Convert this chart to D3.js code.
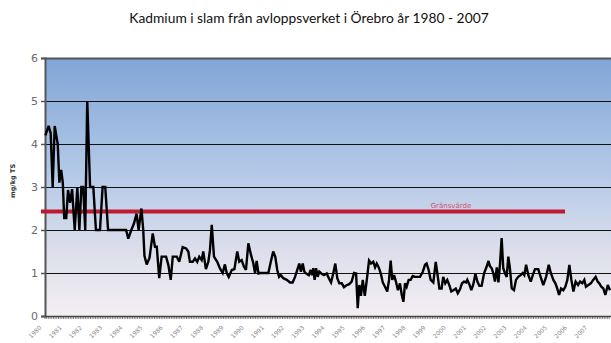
<!DOCTYPE html>
<html>
<head>
<meta charset="utf-8">
<script src="https://cdn.jsdelivr.net/npm/d3@7"></script>
<style>
  html, body { margin: 0; padding: 0; background: #fff; overflow: hidden; }
  svg { display: block; }
</style>
</head>
<body>
<svg id="chart" width="611" height="343"></svg>
<script>
// Cadmium in sewage sludge, Örebro, sampling time as decimal year
const sampleYear = [
  1980.02, 1980.18, 1980.28, 1980.38, 1980.48, 1980.63, 1980.71, 1980.80, 1980.88, 1980.95,
  1981.05, 1981.14, 1981.24, 1981.34, 1981.47, 1981.60, 1981.70, 1981.80, 1981.89, 1981.99,
  1982.09, 1982.23, 1982.39, 1982.52, 1982.72, 1982.85, 1982.98, 1983.12, 1984.01, 1984.12,
  1984.27, 1984.40, 1984.53, 1984.63, 1984.77, 1984.86, 1984.92, 1985.03, 1985.17, 1985.33,
  1985.44, 1985.53, 1985.65, 1985.77, 1985.99, 1986.10, 1986.22, 1986.32, 1986.52, 1986.64,
  1986.81, 1986.98, 1987.09, 1987.17, 1987.31, 1987.42, 1987.53, 1987.63, 1987.75, 1987.83,
  1987.96, 1988.08, 1988.16, 1988.25, 1988.36, 1988.52, 1988.66, 1988.79, 1988.90, 1988.99,
  1989.09, 1989.24, 1989.37, 1989.51, 1989.61, 1989.73, 1989.84, 1989.94, 1990.06, 1990.19,
  1990.30, 1990.39, 1990.47, 1990.56, 1990.64, 1991.05, 1991.17, 1991.29, 1991.39, 1991.49,
  1991.58, 1991.66, 1991.79, 1991.96, 1992.12, 1992.25, 1992.37, 1992.48, 1992.58, 1992.66,
  1992.75, 1992.83, 1992.91, 1993.05, 1993.14, 1993.21, 1993.27, 1993.34, 1993.41, 1993.49,
  1993.57, 1993.67, 1993.80, 1993.94, 1994.04, 1994.15, 1994.26, 1994.36, 1994.46, 1994.56,
  1994.68, 1994.79, 1994.93, 1995.05, 1995.17, 1995.29, 1995.39, 1995.47, 1995.55, 1995.63,
  1995.72, 1995.82, 1995.92, 1996.03, 1996.13, 1996.24, 1996.33, 1996.41, 1996.51, 1996.61,
  1996.71, 1996.82, 1996.93, 1997.02, 1997.10, 1997.18, 1997.27, 1997.36, 1997.46, 1997.56,
  1997.65, 1997.73, 1997.81, 1997.89, 1997.99, 1998.09, 1998.19, 1998.30, 1998.55, 1998.69,
  1998.80, 1998.88, 1998.98, 1999.08, 1999.21, 1999.33, 1999.41, 1999.51, 1999.62, 1999.70,
  1999.80, 1999.90, 2000.00, 2000.10, 2000.20, 2000.32, 2000.42, 2000.53, 2000.63, 2000.73,
  2000.83, 2000.89, 2000.99, 2001.09, 2001.19, 2001.29, 2001.39, 2001.49, 2001.60, 2001.72,
  2001.85, 2001.94, 2002.01, 2002.10, 2002.18, 2002.26, 2002.35, 2002.43, 2002.51, 2002.59,
  2002.67, 2002.76, 2002.84, 2002.92, 2003.00, 2003.09, 2003.20, 2003.30, 2003.41, 2003.53,
  2003.63, 2003.71, 2003.80, 2003.91, 2004.03, 2004.13, 2004.24, 2004.40, 2004.52, 2004.65,
  2004.79, 2004.92, 2005.03, 2005.15, 2005.25, 2005.34, 2005.43, 2005.53, 2005.64, 2005.74,
  2005.84, 2005.94, 2006.04, 2006.14, 2006.25, 2006.37, 2006.47, 2006.58, 2006.68, 2006.76,
  2006.88, 2007.00, 2007.12, 2007.24, 2007.34, 2007.42, 2007.52, 2007.62, 2007.72, 2007.84,
  2007.95
];

// mg/kg TS
const cadmium = [
  4.20, 4.42, 4.25, 3.00, 4.42, 4.00, 3.10, 3.40, 3.10, 2.28,
  2.28, 2.93, 2.63, 2.95, 2.00, 3.00, 2.00, 3.00, 3.00, 2.00,
  5.00, 3.00, 3.00, 2.00, 2.00, 3.00, 3.00, 2.00, 2.00, 1.80,
  2.00, 2.15, 2.38, 2.00, 2.50, 2.00, 1.40, 1.20, 1.35, 1.92,
  1.61, 1.61, 0.88, 1.38, 1.38, 1.19, 0.84, 1.38, 1.38, 1.26,
  1.60, 1.57, 1.50, 1.26, 1.26, 1.34, 1.26, 1.38, 1.30, 1.50,
  1.09, 1.26, 1.53, 2.12, 1.38, 1.26, 1.10, 1.00, 1.20, 1.00,
  0.91, 1.07, 1.09, 1.50, 1.26, 1.30, 1.15, 1.07, 1.69, 1.42,
  1.24, 1.00, 1.28, 0.99, 1.00, 1.00, 1.26, 1.50, 1.38, 1.07,
  0.91, 0.95, 0.88, 0.84, 0.78, 0.78, 0.91, 1.07, 1.22, 1.03,
  1.22, 1.03, 0.99, 0.95, 1.07, 0.95, 1.11, 0.84, 1.11, 0.91,
  1.03, 0.99, 0.95, 0.99, 0.88, 0.78, 0.99, 1.22, 0.88, 0.76,
  0.76, 0.67, 0.72, 0.74, 0.80, 1.00, 0.99, 0.18, 0.72, 0.47,
  0.84, 0.47, 0.84, 1.29, 1.22, 1.26, 1.13, 1.22, 1.13, 0.99,
  0.78, 0.68, 0.57, 0.84, 1.29, 0.84, 0.95, 0.80, 0.60, 0.76,
  0.49, 0.33, 0.76, 0.68, 0.84, 0.84, 0.93, 0.91, 0.91, 1.03,
  1.19, 1.22, 1.07, 0.84, 0.78, 1.26, 0.99, 0.64, 0.64, 0.91,
  0.76, 0.84, 0.72, 0.57, 0.60, 0.64, 0.53, 0.62, 0.76, 0.80,
  0.78, 0.84, 0.74, 0.60, 0.74, 0.98, 0.80, 0.70, 0.70, 0.99,
  1.15, 1.28, 1.16, 1.11, 0.99, 0.80, 1.13, 0.78, 1.22, 1.81,
  1.11, 0.99, 0.91, 1.38, 1.11, 0.64, 0.60, 0.84, 0.91, 0.95,
  1.00, 0.95, 1.19, 0.95, 0.80, 0.95, 1.09, 1.09, 0.91, 0.72,
  0.91, 1.19, 0.99, 0.84, 0.76, 0.64, 0.49, 0.64, 0.60, 0.68,
  0.84, 1.19, 0.84, 0.57, 0.80, 0.72, 0.80, 0.76, 0.84, 0.68,
  0.72, 0.76, 0.84, 0.91, 0.80, 0.76, 0.68, 0.64, 0.49, 0.72,
  0.60
];

const limitValue = 2.43;
const limitLabel = "Gränsvärde";
const yTicks = [0, 1, 2, 3, 4, 5, 6];
const yearLabels = d3.range(1980, 2008).map(String);
const titleText = "Kadmium i slam från avloppsverket i Örebro år 1980 - 2007";
const yTitle = "mg/kg TS";

const svg = d3.select("#chart");
const W = 611, H = 343;
const plot = { left: 45, right: 611, top: 58, bottom: 316 };

const x = d3.scaleLinear().domain([1980, 2008]).range([plot.left, plot.right]);
const y = d3.scaleLinear().domain([0, 6]).range([plot.bottom, plot.top]);

// background gradient of the plot area
const defs = svg.append("defs");
const grad = defs.append("linearGradient")
  .attr("id", "bg").attr("x1", 0).attr("y1", 0).attr("x2", 0).attr("y2", 1);
grad.append("stop").attr("offset", "0%").attr("stop-color", "#80a5d6");
grad.append("stop").attr("offset", "45%").attr("stop-color", "#b4c9e8");
grad.append("stop").attr("offset", "75%").attr("stop-color", "#dcdfeb");
grad.append("stop").attr("offset", "100%").attr("stop-color", "#f4eef2");

svg.append("rect")
  .attr("x", plot.left).attr("y", plot.top)
  .attr("width", plot.right - plot.left + 5).attr("height", plot.bottom - plot.top)
  .attr("fill", "url(#bg)");

// title
svg.append("text")
  .attr("x", 309).attr("y", 23)
  .attr("text-anchor", "middle")
  .attr("font-family", "Lato, 'Open Sans', sans-serif")
  .attr("font-size", 13.8)
  .attr("fill", "#111")
  .text(titleText);

// horizontal grid lines
svg.append("g")
  .selectAll("line")
  .data(yTicks.filter(d => d > 0))
  .join("line")
  .attr("x1", plot.left).attr("x2", W)
  .attr("y1", d => Math.round(y(d)) + 0.5).attr("y2", d => Math.round(y(d)) + 0.5)
  .attr("stroke", d => d === 6 ? "#555" : "#111")
  .attr("stroke-width", d => d === 6 ? 2 : 1.2);

// y axis
const yAxis = d3.axisLeft(y).tickValues(yTicks).tickSize(4).tickPadding(3).tickFormat(d3.format("d"));
const gy = svg.append("g").attr("transform", `translate(${plot.left},0)`).call(yAxis);
gy.select(".domain").attr("stroke", "#555").attr("stroke-width", 2);
gy.selectAll(".tick line").attr("stroke", "#555").attr("stroke-width", 1.5);
gy.selectAll(".tick text")
  .attr("font-family", "'DejaVu Sans', sans-serif")
  .attr("font-size", 11)
  .attr("fill", "#6a6a6a");

// y axis title
svg.append("text")
  .attr("transform", "translate(15,181) rotate(-90)")
  .attr("text-anchor", "middle")
  .attr("font-family", "'DejaVu Sans', sans-serif")
  .attr("font-size", 6.5)
  .attr("font-weight", "bold")
  .attr("fill", "#333")
  .text(yTitle);

// x axis with monthly minor ticks
const monthTicks = d3.range(0, 336).map(i => 1980 + i / 12);
svg.append("g")
  .selectAll("line")
  .data(monthTicks)
  .join("line")
  .attr("x1", d => x(d)).attr("x2", d => x(d))
  .attr("y1", plot.bottom).attr("y2", plot.bottom + 3)
  .attr("stroke", "#555").attr("stroke-width", 0.7);
svg.append("line")
  .attr("x1", plot.left).attr("x2", W)
  .attr("y1", plot.bottom + 0.5).attr("y2", plot.bottom + 0.5)
  .attr("stroke", "#444").attr("stroke-width", 1.5);

// year labels, rotated
svg.append("g")
  .selectAll("text")
  .data(yearLabels)
  .join("text")
  .attr("transform", d => `translate(${x(+d) - 3},${plot.bottom + 12}) rotate(-45)`)
  .attr("text-anchor", "end")
  .attr("font-family", "'DejaVu Sans', sans-serif")
  .attr("font-size", 6)
  .attr("fill", "#8a8a8a")
  .text(d => d);

// limit line
svg.append("line")
  .attr("x1", 41).attr("x2", 565)
  .attr("y1", y(limitValue)).attr("y2", y(limitValue))
  .attr("stroke", "#c01a30").attr("stroke-width", 4);
svg.append("text")
  .attr("x", 451).attr("y", y(limitValue) - 4)
  .attr("text-anchor", "middle")
  .attr("font-family", "'DejaVu Sans', sans-serif")
  .attr("font-size", 7)
  .attr("fill", "#d0506a")
  .text(limitLabel);

// data line
const pts = sampleYear.map((t, i) => [t, cadmium[i]]);
const line = d3.line().x(d => x(d[0])).y(d => y(d[1]));
svg.append("path")
  .datum(pts)
  .attr("d", line)
  .attr("fill", "none")
  .attr("stroke", "#000")
  .attr("stroke-width", 2.4)
  .attr("stroke-linejoin", "miter")
  .attr("stroke-miterlimit", 3);
</script>
</body>
</html>
